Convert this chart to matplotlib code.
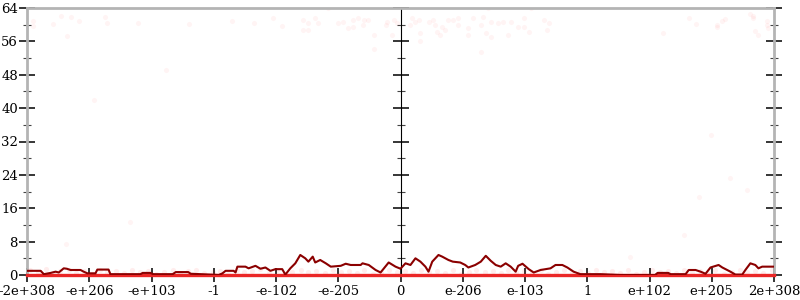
import matplotlib
matplotlib.use("Agg")
import matplotlib.pyplot as plt
from matplotlib.ticker import MultipleLocator, FixedLocator, NullFormatter

plt.rcParams["font.family"] = ["DejaVu Serif"]

# x positions are tick-slot units (-6 .. 6), labels below
tick_pos = [-6, -5, -4, -3, -2, -1, 0, 1, 2, 3, 4, 5, 6]
tick_labels = ["-2e+308", "-e+206", "-e+103", "-1", "-e-102", "-e-205", "0",
               "e-206", "e-103", "1", "e+102", "e+205", "2e+308"]
y_ticks = [0, 8, 16, 24, 32, 40, 48, 56, 64]

# smoothed (dark red) line
line_x = [-6.0, -5.78, -5.73, -5.62, -5.54, -5.49, -5.41, -5.36, -5.30, -5.14, -5.09, -5.03,
          -4.90, -4.87, -4.69, -4.66, -4.18, -4.14, -4.02, -3.97, -3.66, -3.61, -3.41, -3.37,
          -3.21, -2.92, -2.86, -2.81, -2.68, -2.65, -2.62, -2.49, -2.44, -2.33, -2.25, -2.17,
          -2.09, -2.01, -1.90, -1.85, -1.77, -1.69, -1.61, -1.53, -1.48, -1.41, -1.37, -1.29,
          -1.20, -1.12, -0.96, -0.88, -0.80, -0.64, -0.61, -0.51, -0.40, -0.32, -0.19, -0.08,
          0.0, 0.08, 0.16, 0.24, 0.32, 0.40, 0.45, 0.51, 0.61, 0.67, 0.77, 0.84, 0.96, 1.04,
          1.09, 1.20, 1.29, 1.37, 1.45, 1.53, 1.61, 1.69, 1.77, 1.85, 1.89, 1.96, 2.06, 2.14,
          2.25, 2.41, 2.49, 2.60, 2.68, 2.78, 2.89, 3.21, 3.53, 4.09, 4.13, 4.30, 4.34, 4.58,
          4.63, 4.74, 4.82, 4.90, 4.98, 5.11, 5.17, 5.30, 5.38, 5.49, 5.54, 5.62, 5.70, 5.75,
          5.81, 5.91, 6.0]
line_y = [1.0, 1.0, 0.2, 0.5, 0.8, 0.6, 1.6, 1.5, 1.2, 1.2, 0.8, 0.4,
          0.4, 1.3, 1.3, 0.2, 0.2, 0.5, 0.5, 0.2, 0.2, 0.7, 0.7, 0.3,
          0.2, 0.0, 0.4, 1.0, 1.0, 0.6, 2.0, 2.0, 1.6, 2.2, 1.5, 1.8,
          1.0, 1.4, 1.4, 0.1, 1.6, 2.8, 4.8, 4.0, 3.2, 4.4, 3.0, 3.6,
          2.8, 2.0, 2.2, 2.7, 2.4, 2.4, 2.8, 2.4, 1.2, 0.6, 3.0, 2.0,
          1.5, 2.8, 2.4, 4.0, 3.2, 2.0, 0.8, 3.2, 4.8, 4.4, 3.6, 3.2, 3.0, 2.4,
          1.8, 2.4, 3.2, 4.6, 3.4, 2.4, 2.0, 2.8, 2.0, 0.8, 2.2, 2.7, 1.4, 0.6,
          1.2, 1.6, 2.4, 2.4, 1.8, 0.8, 0.2, 0.2, 0.0, 0.0, 0.5, 0.5, 0.2, 0.2,
          1.2, 1.2, 0.8, 0.3, 1.8, 2.4, 1.8, 0.8, 0.1, 0.1, 1.2, 2.8, 2.4, 1.6,
          2.0, 2.0, 2.0]

# faint sample points
pts_x = [-5.91, -5.90, -5.59, -5.46, -5.30, -5.35, -5.17, -4.74, -4.72, -4.22, -4.92, -3.76,
         -3.39, -1.56, -1.49, -1.33, -1.48, -1.57, -1.37, -1.17, -1.01, -0.93, -0.85, -0.77,
         -0.76, -0.69, -0.61, -0.59, -0.53, -0.43, -0.43, -0.24, -0.21, -0.13, -0.11, -0.05,
         0.16, 0.19, 0.24, 0.29, 0.32, 0.32, 0.45, 0.53, 0.56, 0.59, 0.64, 0.67, 0.72, 0.76,
         0.85, 0.92, 0.93, 1.08, 1.08, 1.17, 1.29, 1.32, 1.37, 1.40, 1.45, 1.45, 1.29, 1.57,
         1.64, 1.77, 1.73, 1.88, 1.98, 1.98, 2.06, 2.09, 2.30, 2.36, 2.38,
         4.64, 4.74, 5.08, 5.08, 5.17, 5.22, 5.61, 5.67, 5.67, 5.88, 5.88, 5.91, 5.70, 5.75,
         4.21, 4.98, 3.68, 4.55, 4.80, 5.29, 5.57, -5.37, -4.34,
         -2.70, -2.35, -2.05, -1.90]
pts_y = [60.9, 59.7, 60.2, 62.1, 61.9, 57.3, 60.9, 61.9, 60.4, 60.4, 42.0, 49.2,
         60.2, 61.2, 60.4, 60.4, 58.8, 58.8, 61.6, 64.0, 60.4, 60.7, 59.2, 59.5,
         61.2, 61.6, 60.0, 61.2, 61.2, 57.6, 54.2, 60.0, 60.7, 57.6, 61.2, 60.4,
         60.0, 61.6, 60.7, 61.2, 58.0, 56.1, 60.7, 61.2, 60.0, 58.3, 57.6, 59.5, 58.8, 61.2,
         61.2, 61.6, 60.0, 59.2, 57.6, 61.6, 60.0, 61.9, 58.0, 64.0, 60.7, 57.1, 53.5, 60.4,
         60.7, 60.7, 57.6, 59.5, 61.6, 59.5, 58.3, 64.0, 61.2, 58.8, 60.4,
         61.6, 60.2, 60.0, 59.5, 60.9, 61.4, 62.6, 62.1, 61.6, 60.9, 60.0, 59.2, 58.5, 57.6,
         58.0, 33.6, 4.3, 9.6, 18.7, 23.3, 20.4, 7.4, 12.7,
         61.0, 60.3, 61.5, 59.8]

# dense faint band near zero
band_x = [-5.95, -5.82, -5.70, -5.58, -5.47, -5.33, -5.21, -5.08, -4.96, -4.83, -4.71, -4.57,
          -4.44, -4.31, -4.19, -4.05, -3.92, -3.80, -3.66, -3.55, -3.41, -3.28, -3.16, -3.02,
          -2.90, -2.77, -2.63, -2.51, -2.38, -2.26, -2.12, -1.99, -1.86, -1.74, -1.60, -1.48,
          -1.35, -1.21, -1.09, -0.96, -0.83, -0.70, -0.58, -0.44, -0.32, -0.19, -0.06,
          0.07, 0.20, 0.33, 0.46, 0.58, 0.71, 0.84, 0.97, 1.10, 1.22, 1.35, 1.48, 1.61,
          1.73, 1.86, 1.99, 2.12, 2.25, 2.37, 2.50, 2.63, 2.76, 2.89, 3.01, 3.14, 3.27,
          3.40, 3.53, 3.65, 3.78, 3.91, 4.04, 4.17, 4.29, 4.42, 4.55, 4.68, 4.81, 4.93,
          5.06, 5.19, 5.32, 5.45, 5.57, 5.70, 5.83, 5.96]
band_y = [1.1, 0.6, 1.4, 0.4, 0.9, 1.2, 0.5, 1.0, 0.3, 1.3, 0.7, 0.9,
          0.4, 1.2, 0.6, 1.0, 0.3, 0.8, 1.1, 0.5, 0.9, 1.3, 0.4, 0.7,
          1.0, 0.3, 1.2, 0.6, 0.9, 1.4, 0.5, 1.1, 0.3, 0.8, 1.2, 0.6,
          1.0, 0.4, 1.3, 0.7, 0.9, 0.5, 1.1, 0.3, 0.8, 1.2, 0.6,
          1.0, 0.4, 1.3, 0.7, 0.9, 0.5, 1.2, 0.3, 0.8, 1.1, 0.6, 1.0, 0.4,
          1.3, 0.7, 0.9, 0.5, 1.2, 0.3, 0.8, 1.1, 0.6, 1.0, 0.4, 1.3, 0.7,
          0.9, 0.5, 1.2, 0.3, 0.8, 1.1, 0.6, 1.0, 0.4, 1.3, 0.7, 0.9, 0.5,
          1.2, 0.3, 0.8, 1.1, 0.6, 1.0, 0.4, 1.3]

baseline_x = [-6, 6]
baseline_y = [0, 0]

fig = plt.figure(figsize=(8, 3), dpi=100)
ax = fig.add_axes([27/800, 25/300, 747/800, 267/300])
ax.set_xlim(-6, 6)
ax.set_ylim(0, 64)

ax.scatter(band_x, band_y, s=14, color="red", alpha=0.07, linewidths=0, zorder=2)
ax.scatter(pts_x, pts_y, s=14, color="red", alpha=0.045, linewidths=0, zorder=2)
ax.plot(baseline_x, baseline_y, color=(0.92, 0.15, 0.15), lw=2.4, zorder=3, clip_on=False)
ax.plot(line_x, line_y, color="#8b0000", lw=1.5, zorder=4)

axis_gray = "#b4b4b4"
for side in ["left", "right", "top"]:
    ax.spines[side].set_color(axis_gray)
    ax.spines[side].set_linewidth(2)
ax.spines["bottom"].set_visible(False)

ax.yaxis.set_major_locator(FixedLocator(y_ticks))
ax.yaxis.set_minor_locator(MultipleLocator(4))
ax.set_xticks(tick_pos)
ax.set_xticklabels(tick_labels)

for lbl in ax.get_xticklabels() + ax.get_yticklabels():
    lbl.set_fontsize(9.5)

ax.tick_params(axis="y", which="major", direction="inout", length=11, width=1.1,
               color="black", left=True, right=True, labelleft=True, labelright=False, pad=1)
ax.tick_params(axis="y", which="minor", direction="inout", length=6, width=0.8,
               color="#444444", left=True, right=True)
ax.tick_params(axis="x", which="major", direction="inout", length=10, width=1.1,
               color="black", bottom=True, pad=2)

# central vertical axis
mid = ax.secondary_yaxis(0.5)
mid.spines["left"].set_color(axis_gray)
mid.spines["left"].set_linewidth(2)
mid.yaxis.set_major_locator(FixedLocator(y_ticks))
mid.yaxis.set_minor_locator(MultipleLocator(4))
mid.yaxis.set_major_formatter(NullFormatter())
mid.yaxis.set_minor_formatter(NullFormatter())
mid.tick_params(axis="y", which="major", direction="inout", length=11, width=1.1,
                color="black", labelleft=False, labelright=False)
mid.tick_params(axis="y", which="minor", direction="inout", length=6, width=0.8,
                color="#444444")

fig.savefig("out.png", dpi=100)
